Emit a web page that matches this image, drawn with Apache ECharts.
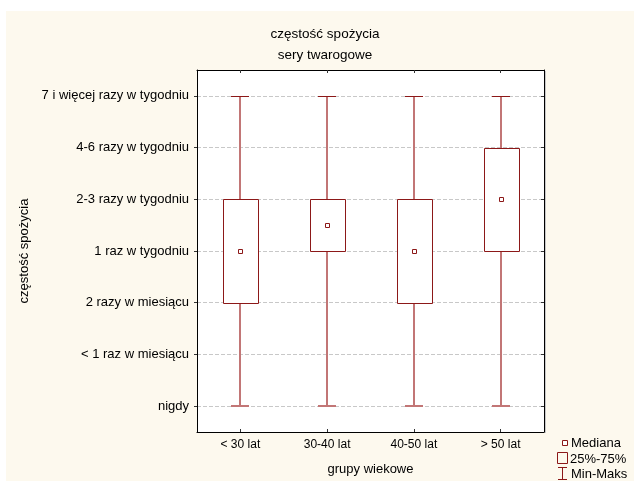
<!DOCTYPE html>
<html><head><meta charset="utf-8">
<script src="https://cdn.jsdelivr.net/npm/echarts@6/dist/echarts.min.js"></script>
<style>html,body{margin:0;padding:0;background:#fff}#c{width:634px;height:481px}</style>
</head><body><div id="c"></div>
<script>
// ---- data ----
const categories = ['< 30 lat', '30-40 lat', '40-50 lat', '> 50 lat'];
const levelLabels = ['nigdy', '< 1 raz w miesiącu', '2 razy w miesiącu', '1 raz w tygodniu',
  '2-3 razy w tygodniu', '4-6 razy w tygodniu', '7 i więcej razy w tygodniu'];
const levelTicks = [0, 1, 2, 3, 4, 5, 6];
const minValues = [0, 0, 0, 0];
const q1Values = [2, 3, 2, 3];
const medianValues = [3, 3.5, 3, 4];
const q3Values = [4, 4, 4, 5];
const maxValues = [6, 6, 6, 6];
const titleText = 'częstość spożycia';
const subTitleText = 'sery twarogowe';
const xTitle = 'grupy wiekowe';
const yTitle = 'częstość spożycia';
const legendLabels = ['Mediana', '25%-75%', 'Min-Maks'];

// ---- styles ----
const FONT = '"Liberation Sans", Arial, sans-serif';
const RED = '#8c1818';
const WHISKER = '#c27676';
const CREAM = '#fdf9ee';

const boxData = categories.map((c, i) => [i, minValues[i], q1Values[i], medianValues[i], q3Values[i], maxValues[i]]);

function renderItem(params, api) {
  const i = api.value(0);
  const pMin = api.coord([i, api.value(1)]);
  const pQ1 = api.coord([i, api.value(2)]);
  const pMed = api.coord([i, api.value(3)]);
  const pQ3 = api.coord([i, api.value(4)]);
  const pMax = api.coord([i, api.value(5)]);
  const x = Math.round(pMin[0]);
  const boxHalf = 17.5, capHalf = 9, mk = 2.5;
  const wStyle = { stroke: WHISKER, lineWidth: 2, fill: null };
  return {
    type: 'group',
    children: [
      { type: 'line', shape: { x1: x, y1: Math.round(pMax[1]), x2: x, y2: Math.round(pQ3[1]) }, style: wStyle },
      { type: 'line', shape: { x1: x, y1: Math.round(pQ1[1]), x2: x, y2: Math.round(pMin[1]) }, style: wStyle },
      { type: 'line', shape: { x1: x - capHalf, y1: Math.round(pMax[1]) + 0.5, x2: x + capHalf, y2: Math.round(pMax[1]) + 0.5 }, style: { stroke: RED, lineWidth: 1 } },
      { type: 'line', shape: { x1: x - capHalf, y1: Math.round(pMin[1]), x2: x + capHalf, y2: Math.round(pMin[1]) }, style: { stroke: WHISKER, lineWidth: 2 } },
      { type: 'rect', shape: { x: Math.round(x - boxHalf) + 0.5, y: Math.round(pQ3[1]) + 0.5, width: 35, height: Math.round(pQ1[1]) - Math.round(pQ3[1]) },
        style: { stroke: RED, lineWidth: 1, fill: '#fff' } },
      { type: 'rect', shape: { x: Math.round(x - mk) + 0.5, y: Math.round(pMed[1] - mk) + 0.5, width: 4, height: 4 },
        style: { stroke: RED, lineWidth: 1, fill: '#fff' } }
    ]
  };
}

const chart = echarts.init(document.getElementById('c'), null, { renderer: 'canvas' });
const axisLineStyle = { color: '#000', width: 1 };
chart.setOption({
  backgroundColor: '#fff',
  animation: false,
  textStyle: { fontFamily: FONT },
  title: [
    { text: titleText, left: 320, textAlign: 'center', top: 22, textStyle: { fontSize: 13.5, fontWeight: 'normal', color: '#000', fontFamily: FONT } },
    { text: subTitleText, left: 320, textAlign: 'center', top: 43, textStyle: { fontSize: 13.5, fontWeight: 'normal', color: '#000', fontFamily: FONT } }
  ],
  grid: { left: 197, top: 70, width: 347, height: 362, show: true, backgroundColor: '#fff', borderWidth: 0 },
  xAxis: [
    {
      type: 'category', data: categories, position: 'bottom', boundaryGap: true,
      axisLine: { show: true, onZero: false, lineStyle: axisLineStyle },
      axisTick: { show: true, inside: true, length: 3, alignWithLabel: true, lineStyle: { color: '#333' } },
      axisLabel: { fontSize: 12, color: '#000', margin: 7, fontFamily: FONT },
      splitLine: { show: false },
      name: xTitle, nameLocation: 'middle', nameGap: 31,
      nameTextStyle: { fontSize: 13, color: '#000', fontFamily: FONT }
    },
    {
      type: 'category', data: categories, position: 'top', boundaryGap: true,
      axisLine: { show: true, onZero: false, lineStyle: axisLineStyle },
      axisTick: { show: true, inside: true, length: 3, alignWithLabel: true, lineStyle: { color: '#333' } },
      axisLabel: { show: false }, splitLine: { show: false }
    }
  ],
  yAxis: [
    {
      type: 'value', min: -0.5, max: 6.5, position: 'left',
      axisLine: { show: true, onZero: false, lineStyle: axisLineStyle },
      axisTick: { show: true, inside: false, length: 3, customValues: levelTicks, lineStyle: { color: '#333' } },
      axisLabel: { customValues: levelTicks, formatter: v => levelLabels[Math.round(v)], fontSize: 13, color: '#000', margin: 8, fontFamily: FONT },
      splitLine: { show: true, lineStyle: { color: '#c8c8c8', type: [4, 2], width: 1 } },
      name: yTitle, nameLocation: 'middle', nameGap: 164, nameRotate: 90,
      nameTextStyle: { fontSize: 13, color: '#000', fontFamily: FONT }
    },
    {
      type: 'value', min: -0.5, max: 6.5, position: 'right',
      axisLine: { show: true, onZero: false, lineStyle: axisLineStyle },
      axisTick: { show: true, inside: true, length: 3, customValues: levelTicks, lineStyle: { color: '#333' } },
      axisLabel: { show: false }, splitLine: { show: false }
    }
  ],
  series: [{
    type: 'custom', name: 'boxes', xAxisIndex: 0, yAxisIndex: 0,
    renderItem: renderItem, data: boxData, clip: false
  }],
  graphic: [
    { type: 'rect', z: -100, silent: true, shape: { x: 6, y: 11, width: 628, height: 470 }, style: { fill: CREAM } },
    { type: 'line', z: 100, silent: true, shape: { x1: 545.5, y1: 71, x2: 545.5, y2: 433 }, style: { stroke: '#c8c8c8', lineWidth: 1 } },
    // legend
    { type: 'rect', z: 100, shape: { x: 562.5, y: 440.5, width: 5, height: 5 }, style: { stroke: RED, fill: '#fff', lineWidth: 1 } },
    { type: 'text', z: 100, x: 571, y: 443.5, style: { text: legendLabels[0], fontSize: 13, fontFamily: FONT, fill: '#000', verticalAlign: 'middle' } },
    { type: 'rect', z: 100, shape: { x: 557.5, y: 452.5, width: 10, height: 11 }, style: { stroke: RED, fill: 'none', lineWidth: 1 } },
    { type: 'text', z: 100, x: 570, y: 459, style: { text: legendLabels[1], fontSize: 13, fontFamily: FONT, fill: '#000', verticalAlign: 'middle' } },
    { type: 'line', z: 100, shape: { x1: 562.5, y1: 467, x2: 562.5, y2: 480 }, style: { stroke: RED, lineWidth: 1 } },
    { type: 'line', z: 100, shape: { x1: 558, y1: 467.5, x2: 567, y2: 467.5 }, style: { stroke: RED, lineWidth: 1 } },
    { type: 'line', z: 100, shape: { x1: 558, y1: 479.5, x2: 567, y2: 479.5 }, style: { stroke: RED, lineWidth: 1 } },
    { type: 'text', z: 100, x: 571, y: 474, style: { text: legendLabels[2], fontSize: 13, fontFamily: FONT, fill: '#000', verticalAlign: 'middle' } }
  ]
});
</script>
</body></html>
